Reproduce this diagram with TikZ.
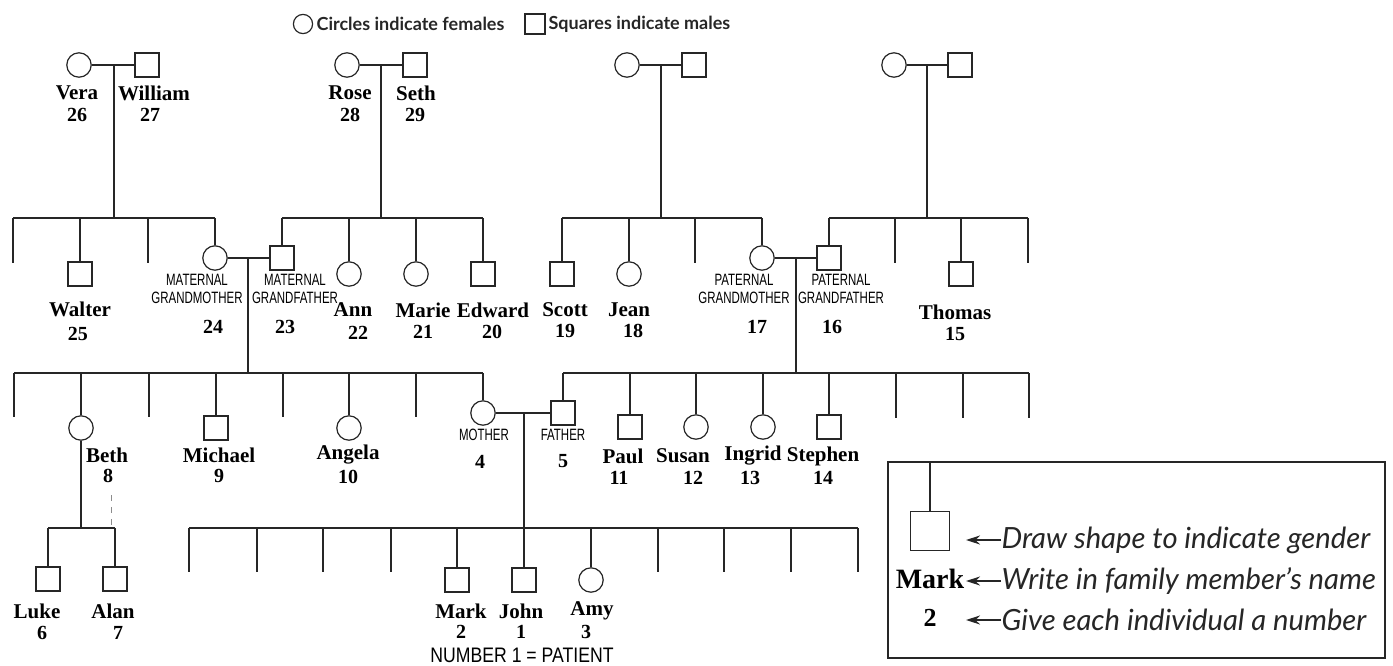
\documentclass[tikz,border=0pt]{standalone}
\usepackage{fontspec}
\setmainfont{Liberation Serif}
\newfontfamily\legendfont{Lato}
\newfontfamily\condfont[FakeStretch=0.7]{Liberation Sans}
\newfontfamily\patfont[FakeStretch=0.84]{Liberation Sans}
\usepackage{tikz}
\usetikzlibrary{arrows.meta,positioning,calc}

\tikzset{
  fem/.style={circle,draw=black!85,line width=0.6pt,minimum size=12.2pt,inner sep=0pt},
  male/.style={rectangle,draw=black!85,line width=0.6pt,minimum size=12pt,inner sep=0pt},
  pname/.style={font=\fontsize{10.5}{11}\selectfont\bfseries,inner sep=0pt},
  pnum/.style={font=\fontsize{10}{11}\selectfont\bfseries,inner sep=0pt},
  role/.style={font=\condfont\fontsize{8.2}{9}\selectfont,align=center,inner sep=0pt,text=black},
  keytxt/.style={font=\legendfont\itshape\fontsize{14.6}{16}\selectfont,anchor=west,inner sep=0pt,text=black!85},
  toptxt/.style={font=\legendfont\bfseries\fontsize{9}{10}\selectfont,anchor=west,inner sep=0pt,text=black!85},
  keyarrow/.style={line width=0.7pt,-{Stealth[length=7pt,width=4.5pt]}},
}

\begin{document}
\begin{tikzpicture}[x=0.5pt,y=-0.5pt,line width=0.6pt,draw=black!85]
\useasboundingbox (0,0) rectangle (1393,665);

% Legend at the top
\node[fem,minimum size=9.6pt] (lgcirc) at (303,24) {};
\node[toptxt] (lgcirctxt) at (316,24) {Circles indicate females};
\node[male,minimum size=10pt] (lgsq) at (535,24) {};
\node[toptxt] (lgsqtxt) at (548,24) {Squares indicate males};

% Great-grandparents
\node[fem] (vera) at (79,65) {};
\node[male] (william) at (147,65) {};
\node[fem] (rose) at (347,65) {};
\node[male] (seth) at (415,65) {};
\node[fem] (ggmthree) at (627,65) {};
\node[male] (ggfthree) at (694,65) {};
\node[fem] (ggmfour) at (894,65) {};
\node[male] (ggffour) at (960,65) {};
\coordinate (mone) at (114,65);
\coordinate (mtwo) at (381,65);
\coordinate (mthree) at (661,65);
\coordinate (mfour) at (927,65);
\draw (vera) -- (william);
\draw (rose) -- (seth);
\draw (ggmthree) -- (ggfthree);
\draw (ggmfour) -- (ggffour);

\node[pname] (nvera) at (77,93) {Vera};
\node[pnum] (kvera) at (77,115) {26};
\node[pname] (nwilliam) at (154,93) {William};
\node[pnum] (kwilliam) at (150,115) {27};
\node[pname] (nrose) at (350,93) {Rose};
\node[pnum] (krose) at (350,115) {28};
\node[pname] (nseth) at (416,93) {Seth};
\node[pnum] (kseth) at (415,115) {29};

% Sibling bars of the grandparents
\coordinate (sibone) at (114,218);
\coordinate (sibtwo) at (381,218);
\coordinate (sibthree) at (661,218);
\coordinate (sibfour) at (927,218);
\coordinate (eone) at (13,263);
\coordinate (etwo) at (148,263);
\coordinate (ethree) at (695,263);
\coordinate (efour) at (895,263);
\coordinate (efive) at (1028,263);

\node[male] (walter) at (80,274) {};
\node[fem] (mgm) at (215,258) {};
\node[male] (mgf) at (282,258) {};
\node[fem] (ann) at (349,274) {};
\node[fem] (marie) at (416,274) {};
\node[male] (edward) at (483,274) {};
\node[male] (scott) at (562,274) {};
\node[fem] (jean) at (629,274) {};
\node[fem] (pgm) at (762,258) {};
\node[male] (pgf) at (829,258) {};
\node[male] (thomas) at (961,274) {};

\draw (mone) -- (sibone);
\draw (eone |- sibone) -- (mgm |- sibone);
\draw (eone |- sibone) -- (eone);
\draw (walter |- sibone) -- (walter);
\draw (etwo |- sibone) -- (etwo);
\draw (mgm |- sibone) -- (mgm);

\draw (mtwo) -- (sibtwo);
\draw (mgf |- sibtwo) -- (edward |- sibtwo);
\draw (mgf |- sibtwo) -- (mgf);
\draw (ann |- sibtwo) -- (ann);
\draw (marie |- sibtwo) -- (marie);
\draw (edward |- sibtwo) -- (edward);

\draw (mthree) -- (sibthree);
\draw (scott |- sibthree) -- (pgm |- sibthree);
\draw (scott |- sibthree) -- (scott);
\draw (jean |- sibthree) -- (jean);
\draw (ethree |- sibthree) -- (ethree);
\draw (pgm |- sibthree) -- (pgm);

\draw (mfour) -- (sibfour);
\draw (pgf |- sibfour) -- (efive |- sibfour);
\draw (pgf |- sibfour) -- (pgf);
\draw (efour |- sibfour) -- (efour);
\draw (thomas |- sibfour) -- (thomas);
\draw (efive |- sibfour) -- (efive);

% Grandparent names and numbers
\node[pname] (nwalter) at (80,309) {Walter};
\node[pnum] (kwalter) at (78,334) {25};
\node[role] (lmgm) at (197,289) {MATERNAL\\GRANDMOTHER};
\node[pnum] (kmgm) at (213,327) {24};
\node[role] (lmgf) at (295,289) {MATERNAL\\GRANDFATHER};
\node[pnum] (kmgf) at (285,327) {23};
\node[pname] (nann) at (353,310) {Ann};
\node[pnum] (kann) at (358,333) {22};
\node[pname] (nmarie) at (423,310) {Marie};
\node[pnum] (kmarie) at (423,332) {21};
\node[pname] (nedward) at (493,310) {Edward};
\node[pnum] (kedward) at (492,332) {20};
\node[pname] (nscott) at (565,310) {Scott};
\node[pnum] (kscott) at (565,331) {19};
\node[pname] (njean) at (629,310) {Jean};
\node[pnum] (kjean) at (633,331) {18};
\node[role] (lpgm) at (744,289) {PATERNAL\\GRANDMOTHER};
\node[pnum] (kpgm) at (757,327) {17};
\node[role] (lpgf) at (841,289) {PATERNAL\\GRANDFATHER};
\node[pnum] (kpgf) at (832,327) {16};
\node[pname] (nthomas) at (955,312) {Thomas};
\node[pnum] (kthomas) at (955,334) {15};

% Parents' generation
\coordinate (mm) at (248,258);
\coordinate (pm) at (796,258);
\coordinate (sibfive) at (248,373);
\coordinate (sibsix) at (796,373);
\coordinate (esix) at (14,417);
\coordinate (eseven) at (149,417);
\coordinate (eeight) at (283,417);
\coordinate (enine) at (416,417);
\coordinate (eten) at (896,418);
\coordinate (eeleven) at (963,418);
\coordinate (etwelve) at (1029,418);

\node[fem] (beth) at (81,428) {};
\node[male] (michael) at (216,428) {};
\node[fem] (angela) at (349,428) {};
\node[fem] (mother) at (483,413) {};
\node[male] (father) at (563,413) {};
\node[male] (paul) at (630,427) {};
\node[fem] (susan) at (696,427) {};
\node[fem] (ingrid) at (763,427) {};
\node[male] (stephen) at (829,427) {};

\draw (mgm) -- (mgf);
\draw (mm) -- (sibfive);
\draw (esix |- sibfive) -- (mother |- sibfive);
\draw (esix |- sibfive) -- (esix);
\draw (beth |- sibfive) -- (beth);
\draw (eseven |- sibfive) -- (eseven);
\draw (michael |- sibfive) -- (michael);
\draw (eeight |- sibfive) -- (eeight);
\draw (angela |- sibfive) -- (angela);
\draw (enine |- sibfive) -- (enine);
\draw (mother |- sibfive) -- (mother);

\draw (pgm) -- (pgf);
\draw (pm) -- (sibsix);
\draw (father |- sibsix) -- (etwelve |- sibsix);
\draw (father |- sibsix) -- (father);
\draw (paul |- sibsix) -- (paul);
\draw (susan |- sibsix) -- (susan);
\draw (ingrid |- sibsix) -- (ingrid);
\draw (stephen |- sibsix) -- (stephen);
\draw (eten |- sibsix) -- (eten);
\draw (eeleven |- sibsix) -- (eeleven);
\draw (etwelve |- sibsix) -- (etwelve);

\node[pname] (nbeth) at (107,455) {Beth};
\node[pnum] (kbeth) at (108,476) {8};
\node[pname] (nmichael) at (219,455) {Michael};
\node[pnum] (kmichael) at (219,476) {9};
\node[pname] (nangela) at (348,455) {Angela};
\node[pnum] (kangela) at (348,477) {10};
\node[role] (lmother) at (484,435) {MOTHER};
\node[pnum] (kmother) at (480,462) {4};
\node[role] (lfather) at (563,435) {FATHER};
\node[pnum] (kfather) at (563,461) {5};
\node[pname] (npaul) at (623,456) {Paul};
\node[pnum] (kpaul) at (619,478) {11};
\node[pname] (nsusan) at (683,456) {Susan};
\node[pnum] (ksusan) at (693,478) {12};
\node[pname] (ningrid) at (753,456) {Ingrid};
\node[pnum] (kingrid) at (750,478) {13};
\node[pname] (nstephen) at (823,456) {Stephen};
\node[pnum] (kstephen) at (823,478) {14};

% Beth's children
\coordinate (sibeight) at (81,528);
\node[male] (luke) at (48,579) {};
\node[male] (alan) at (115,579) {};
\draw (beth) -- (sibeight);
\draw (luke |- sibeight) -- (alan |- sibeight);
\draw (luke |- sibeight) -- (luke);
\draw (alan |- sibeight) -- (alan);
\coordinate (dsha) at (111,495);
\coordinate (dshb) at (111,525);
\draw[dashed,black!45,line width=0.4pt] (dsha) -- (dshb);
\node[pname] (nluke) at (37,611) {Luke};
\node[pnum] (kluke) at (42,633) {6};
\node[pname] (nalan) at (113,611) {Alan};
\node[pnum] (kalan) at (118,633) {7};

% Patient's generation
\coordinate (pat) at (524,412);
\coordinate (sibseven) at (524,528);
\coordinate (ethirteen) at (189,572);
\coordinate (efourteen) at (257,572);
\coordinate (efifteen) at (323,572);
\coordinate (esixteen) at (391,572);
\coordinate (eseventeen) at (658,572);
\coordinate (eeighteen) at (724,572);
\coordinate (enineteen) at (791,572);
\coordinate (etwenty) at (858,572);

\node[male] (mark) at (457,580) {};
\node[male] (john) at (524,580) {};
\node[fem] (amy) at (591,580) {};

\draw (mother) -- (father);
\draw (pat) -- (john);
\draw (ethirteen |- sibseven) -- (etwenty |- sibseven);
\draw (ethirteen |- sibseven) -- (ethirteen);
\draw (efourteen |- sibseven) -- (efourteen);
\draw (efifteen |- sibseven) -- (efifteen);
\draw (esixteen |- sibseven) -- (esixteen);
\draw (mark |- sibseven) -- (mark);
\draw (amy |- sibseven) -- (amy);
\draw (eseventeen |- sibseven) -- (eseventeen);
\draw (eeighteen |- sibseven) -- (eeighteen);
\draw (enineteen |- sibseven) -- (enineteen);
\draw (etwenty |- sibseven) -- (etwenty);

\node[pname] (nmark) at (461,611) {Mark};
\node[pnum] (kmark) at (461,632) {2};
\node[pname] (njohn) at (521,611) {John};
\node[pnum] (kjohn) at (521,632) {1};
\node[pname] (namy) at (592,611) {Amy};
\node[pnum] (kamy) at (586,632) {3};
\node[font=\patfont\fontsize{10.5}{12}\selectfont,inner sep=0pt] (patient) at (522,655) {NUMBER 1 = PATIENT};

% Key box
\node[draw=black!85,line width=0.6pt,minimum width=248.5pt,minimum height=98pt,inner sep=0pt] (keybox) at (1136.5,560) {};
\node[male,minimum size=19.5pt] (keysq) at (930,531) {};
\draw (keysq) -- (keysq |- keybox.north);
\node[font=\fontsize{14}{15}\selectfont\bfseries,inner sep=0pt] (keyname) at (930,579) {Mark};
\node[font=\fontsize{13}{14}\selectfont\bfseries,inner sep=0pt] (keynum) at (930,618) {2};
\coordinate (keytip) at (966,0);
\node[keytxt] (keyone) at (1001,540) {Draw shape to indicate gender};
\node[keytxt] (keytwo) at (1001,581) {Write in family member’s name};
\node[keytxt] (keythree) at (1001,620) {Give each individual a number};
\draw[keyarrow] (keyone.west) -- (keyone.west -| keytip);
\draw[keyarrow] (keytwo.west) -- (keytwo.west -| keytip);
\draw[keyarrow] (keythree.west) -- (keythree.west -| keytip);

\end{tikzpicture}
\end{document}
